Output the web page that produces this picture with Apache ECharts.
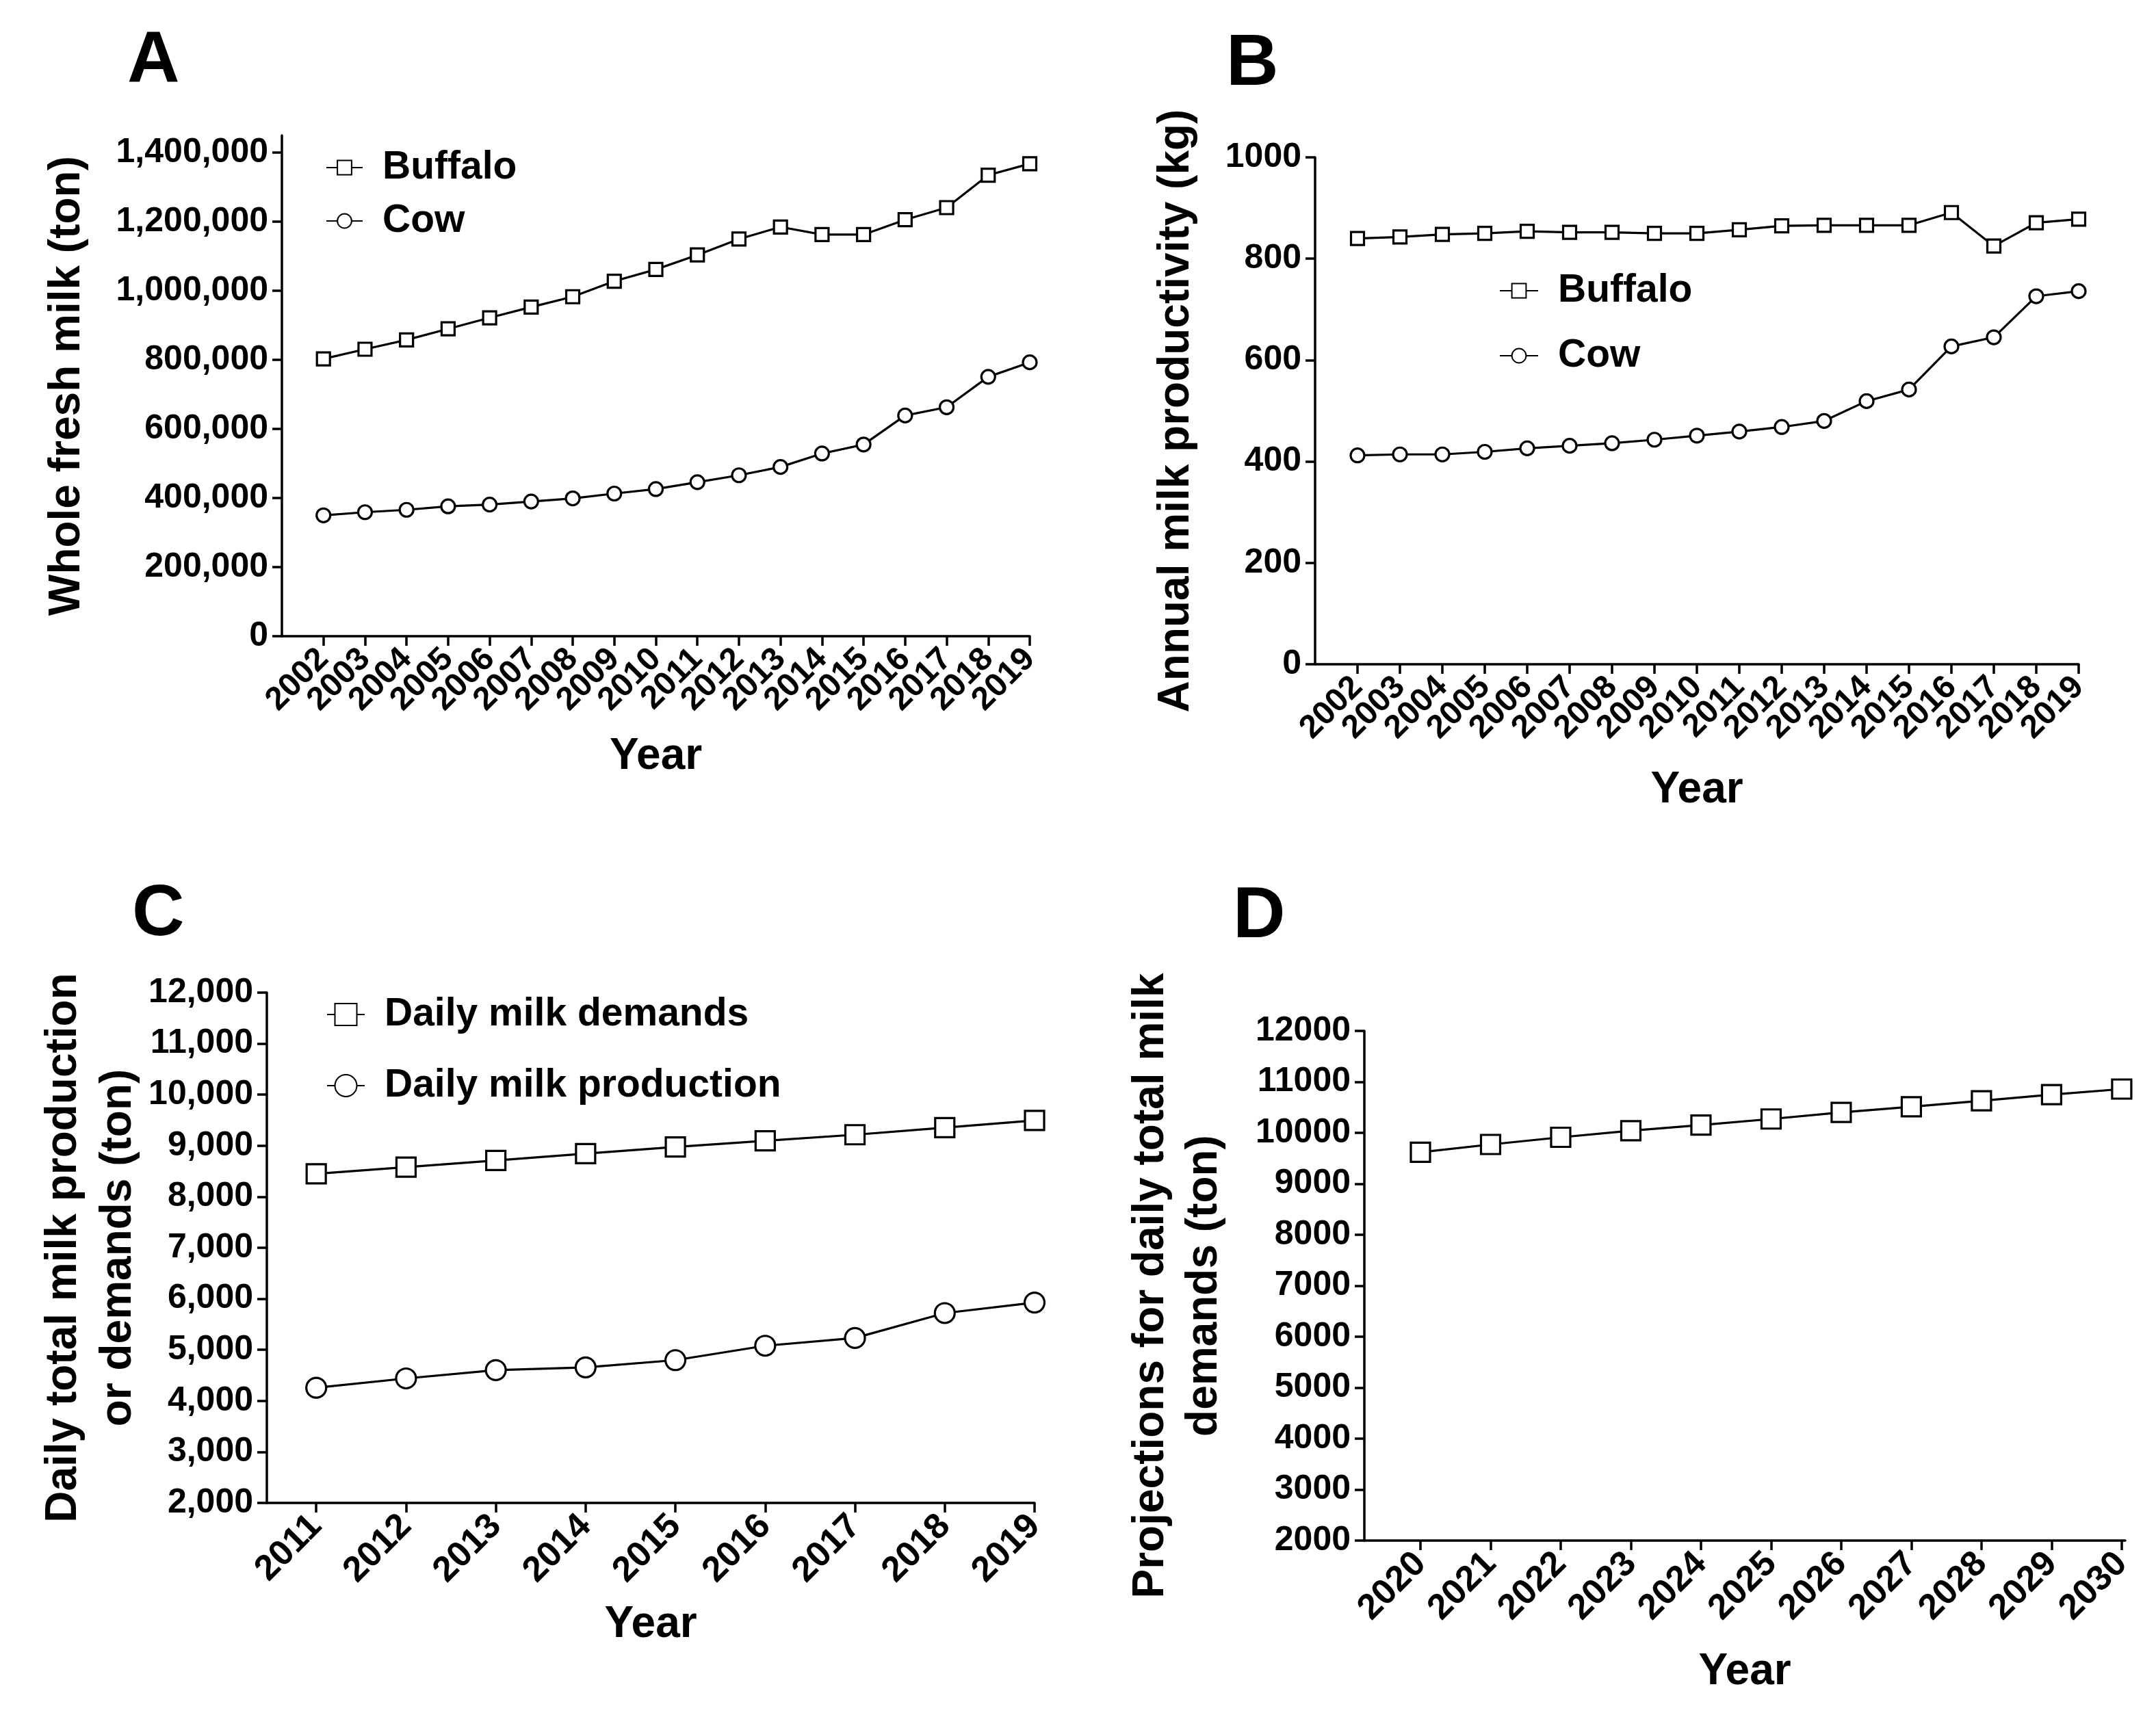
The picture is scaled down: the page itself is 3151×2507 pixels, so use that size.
<!DOCTYPE html>
<html>
<head>
<meta charset="utf-8">
<title>Milk production and demands</title>
<script src="https://cdn.jsdelivr.net/npm/echarts@6/dist/echarts.min.js"></script>
<style>
  html, body { margin: 0; padding: 0; background: #fff; }
  #chart { width: 3151px; height: 2507px; }
</style>
</head>
<body>
<div id="chart"></div>
<script>
// panel A / B : 2002-2019
var yearsAB = ['2002', '2003', '2004', '2005', '2006', '2007', '2008', '2009', '2010', '2011', '2012', '2013', '2014', '2015', '2016', '2017', '2018', '2019'];
var buffaloMilk = [803000, 831000, 858000, 890000, 922000, 953000, 983000, 1028000, 1062000, 1104000, 1150000, 1185000, 1163000, 1163000, 1206000, 1241000, 1335000, 1368000];
var cowMilk = [350000, 359000, 366000, 376000, 381000, 390000, 399000, 413000, 426000, 446000, 466000, 490000, 529000, 555000, 639000, 663000, 751000, 793000];
var buffaloYield = [840, 843, 848, 850, 854, 852, 852, 850, 850, 857, 865, 866, 866, 866, 891, 825, 871, 878];
var cowYield = [412, 414, 414, 419, 426, 431, 436, 443, 451, 459, 468, 480, 519, 542, 627, 645, 726, 736];

// panel C : 2011-2019
var yearsC = [2011, 2012, 2013, 2014, 2015, 2016, 2017, 2018, 2019];
var dailyDemand = [8450, 8580, 8710, 8845, 8975, 9095, 9215, 9355, 9495];
var dailyProduction = [4256, 4440, 4603, 4657, 4798, 5080, 5232, 5720, 5926];

// panel D : 2020-2030
var yearsD = [2020, 2021, 2022, 2023, 2024, 2025, 2026, 2027, 2028, 2029, 2030];
var projectedDemand = [9620, 9772, 9913, 10043, 10152, 10272, 10402, 10511, 10630, 10750, 10859];

// tick labels
var yTicksA = [0, 200000, 400000, 600000, 800000, 1000000, 1200000, 1400000];
var yTicksB = [0, 200, 400, 600, 800, 1000];
var yTicksCD = [2000, 3000, 4000, 5000, 6000, 7000, 8000, 9000, 10000, 11000, 12000];

var FONT = 'Liberation Sans, Arial, sans-serif';

var axisLineStyle = { color: '#000', width: 3.5 };
var nameStyle = { fontFamily: FONT, fontWeight: 'bold', fontSize: 64, color: '#000' };

function pairs(xs, ys) {
  var out = [];
  for (var i = 0; i < xs.length; ++i) {
    out.push([xs[i], ys[i]]);
  }
  return out;
}

function withCommas(v) {
  return v.toLocaleString('en-US');
}

// A and B: a blank slot in front of 2002 so the axis starts one step before it,
// category axis so none of the crowded rotated labels gets dropped
function xAxisCat(index, years, gap) {
  return {
    type: 'category',
    gridIndex: index,
    data: [''].concat(years),
    boundaryGap: false,
    name: 'Year',
    nameLocation: 'middle',
    nameGap: gap,
    nameTextStyle: nameStyle,
    axisLine: { show: true, onZero: false, lineStyle: axisLineStyle },
    axisTick: {
      show: true,
      length: 14,
      interval: function (i) { return i > 0; },
      lineStyle: axisLineStyle
    },
    axisLabel: {
      interval: 0,
      rotate: 45,
      margin: 26,
      fontFamily: FONT,
      fontWeight: 'bold',
      fontSize: 48,
      color: '#000'
    },
    splitLine: { show: false }
  };
}

function xAxisFor(index, min, max, years, gap) {
  return {
    type: 'value',
    gridIndex: index,
    min: min,
    max: max,
    name: 'Year',
    nameLocation: 'middle',
    nameGap: gap,
    nameTextStyle: nameStyle,
    axisLine: { show: true, onZero: false, lineStyle: axisLineStyle },
    axisTick: { show: true, length: 14, customValues: years, lineStyle: axisLineStyle },
    axisLabel: {
      customValues: years,
      showMinLabel: true,
      showMaxLabel: true,
      rotate: 45,
      margin: 26,
      fontFamily: FONT,
      fontWeight: 'bold',
      fontSize: 52,
      color: '#000',
      formatter: function (v) { return String(v); }
    },
    splitLine: { show: false }
  };
}

function yAxisFor(index, max, min, ticks, name, gap, commas, lineHeight) {
  return {
    type: 'value',
    gridIndex: index,
    min: min,
    max: max,
    name: name,
    nameLocation: 'middle',
    nameRotate: 90,
    nameGap: gap,
    nameTextStyle: { fontFamily: FONT, fontWeight: 'bold', fontSize: 64, color: '#000', lineHeight: lineHeight || 70 },
    axisLine: { show: true, onZero: false, lineStyle: axisLineStyle },
    axisTick: { show: true, length: 14, customValues: ticks, lineStyle: axisLineStyle },
    axisLabel: {
      customValues: ticks,
      showMinLabel: true,
      showMaxLabel: true,
      margin: 20,
      fontFamily: FONT,
      fontWeight: 'bold',
      fontSize: 50,
      color: '#000',
      formatter: function (v) { return commas ? withCommas(v) : String(v); }
    },
    splitLine: { show: false }
  };
}

function lineSeries(name, axis, symbol, size, data) {
  return {
    name: name,
    type: 'line',
    xAxisIndex: axis,
    yAxisIndex: axis,
    symbol: symbol,
    symbolSize: size,
    showAllSymbol: true,
    lineStyle: { color: '#000', width: 3.2 },
    itemStyle: { color: '#fff', borderColor: '#000', borderWidth: 3.2 },
    emphasis: { disabled: true },
    z: 3,
    data: data
  };
}

function legendFor(names, left, top, iconW, iconH, gap) {
  return {
    data: names,
    orient: 'vertical',
    left: left,
    top: top,
    itemWidth: iconW,
    itemHeight: iconH,
    itemGap: gap,
    selectedMode: false,
    textStyle: {
      fontFamily: FONT,
      fontWeight: 'bold',
      fontSize: 57,
      color: '#000',
      lineHeight: 60,
      padding: [0, 0, 0, 24]
    }
  };
}

function panelLetter(text, x, y) {
  return {
    type: 'text',
    left: x,
    top: y,
    style: { text: text, fontFamily: FONT, fontWeight: 'bold', fontSize: 106, fill: '#000' }
  };
}

var chart = echarts.init(document.getElementById('chart'), null, { renderer: 'canvas' });

var option = {
  backgroundColor: '#fff',
  animation: false,
  grid: [
    { left: 412, top: 198, width: 1093, height: 732 },
    { left: 1922, top: 230, width: 1116, height: 741 },
    { left: 390, top: 1451, width: 1122, height: 746 },
    { left: 1994, top: 1507, width: 1112, height: 745 }
  ],
  xAxis: [
    xAxisCat(0, yearsAB, 144),
    xAxisCat(1, yearsAB, 152),
    xAxisFor(2, 2010.45, 2019, yearsC, 146),
    xAxisFor(3, 2019.2, 2030.05, yearsD, 160)
  ],
  yAxis: [
    yAxisFor(0, 1450000, 0, yTicksA, 'Whole fresh milk (ton)', 279, true),
    yAxisFor(1, 1000, 0, yTicksB, 'Annual milk productivity (kg)', 168, false),
    yAxisFor(2, 12000, 2000, yTicksCD, 'Daily total milk production\nor demands (ton)', 175, true, 80),
    yAxisFor(3, 12000, 2000, yTicksCD, 'Projections for daily total milk\ndemands (ton)', 195, false, 78)
  ],
  legend: [
    legendFor(['Buffalo', 'Cow'], 471, 210, 53, 26, 18),
    legendFor(['Buffalo', 'Cow'], 2186, 390, 56, 26, 35),
    legendFor(['Daily milk demands', 'Daily milk production'], 472, 1448, 55, 40, 44)
  ],
  graphic: [
    panelLetter('A', 186, 38),
    panelLetter('B', 1792, 42),
    panelLetter('C', 193, 1285),
    panelLetter('D', 1802, 1288)
  ],
  series: [
    lineSeries('Buffalo', 0, 'rect', 19, pairs(yearsAB, buffaloMilk)),
    lineSeries('Cow', 0, 'circle', 20, pairs(yearsAB, cowMilk)),
    lineSeries('Buffalo', 1, 'rect', 19, pairs(yearsAB, buffaloYield)),
    lineSeries('Cow', 1, 'circle', 20, pairs(yearsAB, cowYield)),
    lineSeries('Daily milk demands', 2, 'rect', 28, pairs(yearsC, dailyDemand)),
    lineSeries('Daily milk production', 2, 'circle', 29, pairs(yearsC, dailyProduction)),
    lineSeries('Projected demands', 3, 'rect', 28, pairs(yearsD, projectedDemand))
  ]
};

chart.setOption(option);
</script>
</body>
</html>
